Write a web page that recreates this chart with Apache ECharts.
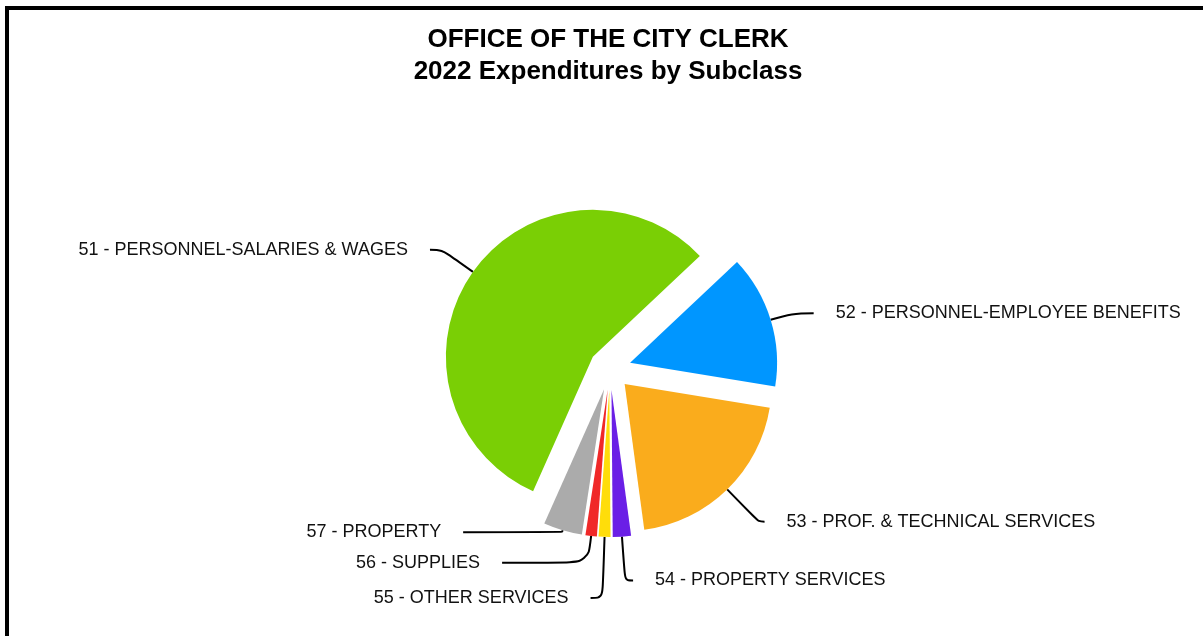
<!DOCTYPE html>
<html>
<head>
<meta charset="utf-8">
<script src="https://cdn.jsdelivr.net/npm/echarts@6/dist/echarts.min.js"></script>
<style>
html,body{margin:0;padding:0;background:#fff;}
#chart{width:1203px;height:636px;}
</style>
</head>
<body>
<div id="chart"></div>
<script>
// Data (share of 2022 expenditures, %)
const categories = [
  '51 - PERSONNEL-SALARIES & WAGES',
  '52 - PERSONNEL-EMPLOYEE BENEFITS',
  '53 - PROF. & TECHNICAL SERVICES',
  '54 - PROPERTY SERVICES',
  '55 - OTHER SERVICES',
  '56 - SUPPLIES',
  '57 - PROPERTY'
];
const values = [56.3, 14.6, 20.3, 2.0, 1.3, 1.25, 4.25];
const colors = ['#7ACF05', '#0096FF', '#FAAC1C', '#6A1FE6', '#FFDD0A', '#F02828', '#ABABAB'];
// leader line lengths [radial, horizontal]
const leaderLengths = [[38, 12], [22, 22], [45, 6], [44, 8], [61, 12], [27, 86], [2, 99]];

const chart = echarts.init(document.getElementById('chart'), null, {renderer: 'canvas'});
const FONT = '"Liberation Sans", Arial, sans-serif';

chart.setOption({
  backgroundColor: '#ffffff',
  animation: false,
  title: {
    text: 'OFFICE OF THE CITY CLERK\n2022 Expenditures by Subclass',
    left: 603,
    textAlign: 'center',
    top: 19,
    textStyle: {
      fontFamily: FONT,
      fontWeight: 'bold',
      fontSize: 26,
      lineHeight: 32,
      color: '#000'
    }
  },
  graphic: [{
    type: 'rect',
    silent: true,
    shape: {x: 7, y: 8, width: 1300, height: 700},
    style: {fill: 'none', stroke: '#000', lineWidth: 4}
  }],
  series: [{
    type: 'pie',
    center: [610, 369],
    radius: 147,
    startAngle: 246,
    clockwise: true,
    avoidLabelOverlap: false,
    selectedMode: 'multiple',
    selectedOffset: 21,
    emphasis: {disabled: true},
    itemStyle: {borderWidth: 0},
    label: {
      show: true,
      position: 'outer',
      alignTo: 'none',
      formatter: '{b}',
      fontFamily: FONT,
      fontSize: 18,
      color: '#111',
      distanceToLabelLine: 22
    },
    labelLine: {
      show: true,
      smooth: 0.35,
      lineStyle: {color: '#000', width: 2}
    },
    data: categories.map((name, i) => ({
      name: name,
      value: values[i],
      selected: true,
      itemStyle: {color: colors[i]},
      labelLine: {length: leaderLengths[i][0], length2: leaderLengths[i][1]}
    }))
  }]
});
</script>
</body>
</html>
